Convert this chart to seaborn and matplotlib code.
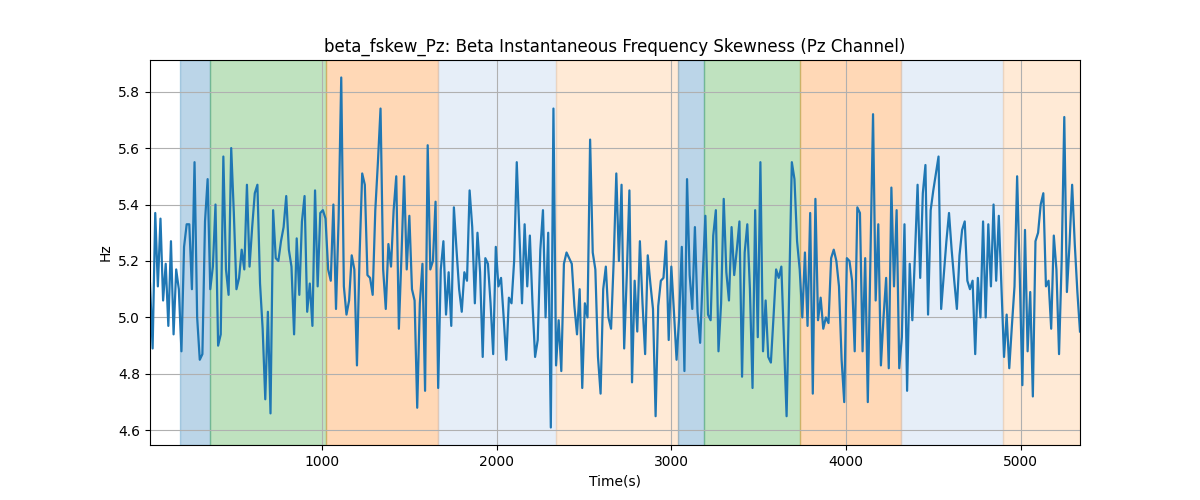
import matplotlib
matplotlib.use("Agg")
import matplotlib.pyplot as plt
import numpy as np
import pandas as pd
import seaborn as sns

# Sampling of the feature series (seconds)
start_s = 15
step_s = 15

# Pz beta instantaneous frequency skewness, one value every 15 s
fskew_pz = [
    5.12, 4.89, 5.37, 5.11, 5.35, 5.06, 5.19, 4.97, 5.27, 4.94,
    5.17, 5.10, 4.88, 5.25, 5.33, 5.33, 5.10, 5.55, 5.00, 4.85,
    4.87, 5.34, 5.49, 5.10, 5.18, 5.40, 4.90, 4.94, 5.57, 5.17,
    5.08, 5.60, 5.37, 5.10, 5.14, 5.24, 5.17, 5.47, 5.18, 5.32,
    5.44, 5.47, 5.12, 4.96, 4.71, 5.02, 4.66, 5.38, 5.21, 5.20,
    5.27, 5.32, 5.43, 5.24, 5.18, 4.94, 5.28, 5.08, 5.34, 5.43,
    5.02, 5.12, 4.97, 5.45, 5.11, 5.37, 5.38, 5.35, 5.17, 5.13,
    5.40, 5.03, 5.35, 5.85, 5.11, 5.01, 5.06, 5.22, 5.17, 4.83,
    5.22, 5.51, 5.47, 5.15, 5.14, 5.08, 5.38, 5.55, 5.74, 5.17,
    5.03, 5.26, 5.18, 5.38, 5.50, 4.96, 5.22, 5.50, 5.17, 5.36,
    5.10, 5.06, 4.68, 5.05, 5.19, 4.74, 5.61, 5.17, 5.20, 5.41,
    4.75, 5.17, 5.27, 5.01, 5.16, 4.97, 5.39, 5.24, 5.10, 5.02,
    5.16, 5.13, 5.45, 5.32, 5.05, 5.30, 5.16, 4.86, 5.21, 5.19,
    5.05, 4.87, 5.25, 5.11, 5.14, 5.00, 4.85, 5.07, 5.05, 5.20,
    5.55, 5.30, 5.05, 5.33, 5.11, 5.29, 5.05, 4.86, 4.92, 5.24,
    5.38, 5.00, 5.30, 4.61, 5.74, 4.83, 4.99, 4.81, 5.19, 5.23,
    5.21, 5.19, 5.04, 4.94, 5.10, 4.75, 5.05, 5.00, 5.63, 5.23,
    5.17, 4.86, 4.73, 5.10, 5.18, 5.00, 4.96, 5.20, 5.51, 5.20,
    5.47, 4.89, 5.15, 5.45, 4.77, 5.13, 4.95, 5.27, 5.05, 4.87,
    5.22, 5.12, 5.03, 4.65, 5.04, 5.13, 5.14, 5.27, 4.92, 5.18,
    5.02, 4.85, 5.00, 5.25, 4.81, 5.49, 5.15, 5.03, 5.32, 5.02,
    4.91, 5.15, 5.36, 5.01, 4.99, 5.29, 5.38, 4.88, 5.05, 5.42,
    5.16, 5.06, 5.32, 5.15, 5.24, 5.34, 4.79, 5.23, 5.33, 5.10,
    4.75, 5.38, 4.93, 5.55, 4.88, 5.06, 4.86, 4.84, 5.00, 5.17,
    5.14, 5.18, 4.92, 4.65, 5.10, 5.55, 5.49, 5.27, 5.17, 5.00,
    5.23, 4.97, 5.37, 4.73, 5.42, 4.99, 5.07, 4.96, 5.00, 4.98,
    5.21, 5.24, 5.20, 5.11, 4.85, 4.70, 5.21, 5.20, 5.13, 4.88,
    5.39, 5.37, 4.88, 5.21, 4.70, 5.20, 5.72, 5.06, 5.33, 4.83,
    5.00, 5.14, 4.82, 5.46, 5.11, 5.38, 4.82, 4.93, 5.33, 4.74,
    5.19, 4.99, 5.22, 5.47, 5.14, 5.44, 5.54, 5.01, 5.38, 5.45,
    5.51, 5.57, 5.03, 5.15, 5.27, 5.37, 5.24, 5.13, 5.03, 5.22,
    5.31, 5.34, 5.13, 5.10, 5.13, 4.87, 5.14, 5.00, 5.34, 5.00,
    5.33, 5.11, 5.40, 5.13, 5.36, 5.11, 4.86, 5.01, 4.82, 4.97,
    5.11, 5.50, 5.15, 4.76, 5.31, 4.88, 5.09, 4.72, 5.27, 5.30,
    5.40, 5.44, 5.11, 5.13, 4.96, 5.29, 5.17, 4.87, 5.20, 5.71,
    5.09, 5.26, 5.47, 5.26, 5.09, 4.95,
]

# Shaded stage segments (seconds)
seg_start = [187, 359, 1023, 1664, 2340, 3039, 3188, 3737, 4316, 4900]
seg_end = [359, 1023, 1664, 2340, 3039, 3188, 3737, 4316, 4900, 5340]
seg_color = ["#1f77b4", "#2ca02c", "#ff7f0e", "#aec7e8", "#ffbb78",
             "#1f77b4", "#2ca02c", "#ff7f0e", "#aec7e8", "#ffbb78"]

df = pd.DataFrame({
    "time": start_s + step_s * np.arange(len(fskew_pz)),
    "value": fskew_pz,
})

fig, ax = plt.subplots(figsize=(12, 5), dpi=100)

for s, e, c in zip(seg_start, seg_end, seg_color):
    ax.axvspan(s, e, color=c, alpha=0.3, linewidth=1)

sns.lineplot(data=df, x="time", y="value", ax=ax, color="tab:blue", linewidth=1.6)

ax.set_xlim(df["time"].min(), df["time"].max())
ax.set_title("beta_fskew_Pz: Beta Instantaneous Frequency Skewness (Pz Channel)")
ax.set_xlabel("Time(s)")
ax.set_ylabel("Hz")
ax.grid(True)

plt.savefig("out.png")
